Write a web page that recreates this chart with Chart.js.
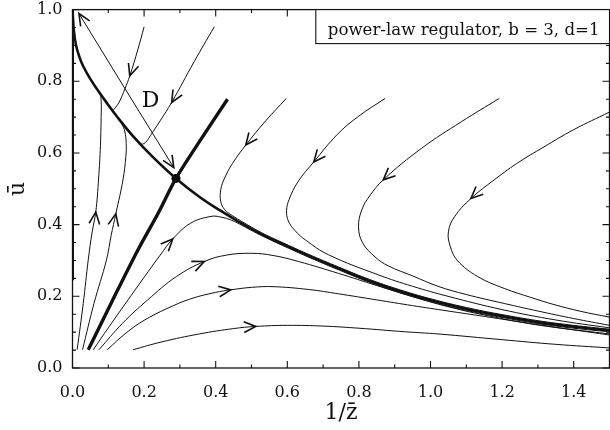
<!DOCTYPE html>
<html>
<head>
<meta charset="utf-8">
<script src="https://cdn.jsdelivr.net/npm/chart.js@4.4.1/dist/chart.umd.min.js"></script>
<style>
html, body { margin: 0; padding: 0; background: #fff; overflow: hidden; }
#wrap { position: relative; width: 614px; height: 430px; }
</style>
</head>
<body>
<div id="wrap"><canvas id="chartPhase"></canvas></div>
<script>
// tick labels
const xTickValues = [0, 0.2, 0.4, 0.6, 0.8, 1.0, 1.2, 1.4];
const yTickValues = [0, 0.2, 0.4, 0.6, 0.8, 1.0];
const xMinorValues = [0.1, 0.3, 0.5, 0.7, 0.9, 1.1, 1.3, 1.5];
const yMinorValues = [0.05, 0.1, 0.15, 0.25, 0.3, 0.35, 0.45, 0.5, 0.55, 0.65, 0.7, 0.75, 0.85, 0.9, 0.95];

const legendText = 'power-law regulator, b = 3, d=1';
const xTitle = '1/z\u0304';
const yTitle = '\u016b';
const dLabel = ['D', 0.218, 0.743];

// thick curves
const thickSep = [[0,1.0],[0.004,0.94],[0.01,0.9],[0.02,0.866],[0.03,0.842],[0.05,0.806],[0.076,0.767],[0.1,0.734],[0.123,0.703],[0.169,0.647],[0.224,0.589],[0.289,0.529],[0.354,0.478],[0.41,0.441],[0.465,0.408],[0.539,0.368],[0.604,0.338],[0.66,0.313],[0.743,0.278],[0.83,0.243],[0.928,0.21],[1.02,0.184],[1.113,0.162],[1.2,0.145],[1.3,0.128],[1.4,0.115],[1.5,0.105]];
const thickRay = [[0.044,0.051],[0.11,0.185],[0.183,0.33],[0.24,0.433],[0.289,0.529],[0.36,0.64],[0.433,0.75]];
const thickAxis = [[0,1.0],[0,0.245]];
const saddle = [[0.289,0.529]];

// distance D (double arrow)
const dLine = [[0.018,0.989],[0.15,0.774],[0.283,0.559]];

// trajectories
const trajA = [[0.2,0.952],[0.183,0.89],[0.16,0.815],[0.146,0.778],[0.132,0.745],[0.121,0.728],[0.112,0.72],[0.104,0.725],[0.098,0.736],[0.076,0.767],[0.05,0.806]];
const trajB = [[0.396,0.952],[0.34,0.855],[0.277,0.741],[0.245,0.69],[0.222,0.655],[0.208,0.634],[0.199,0.626],[0.19,0.626],[0.169,0.647],[0.123,0.703]];
const trajC1 = [[0.013,0.051],[0.03,0.18],[0.044,0.302],[0.055,0.38],[0.065,0.435],[0.073,0.53],[0.078,0.62],[0.08,0.7],[0.08,0.745],[0.076,0.767],[0.05,0.806]];
const trajC2 = [[0.028,0.051],[0.06,0.18],[0.095,0.302],[0.108,0.37],[0.121,0.43],[0.141,0.525],[0.149,0.59],[0.15,0.627],[0.146,0.66],[0.137,0.682],[0.123,0.703],[0.1,0.734]];
const trajE1 = [[0.058,0.051],[0.1,0.112],[0.15,0.183],[0.2,0.253],[0.245,0.315],[0.28,0.36],[0.33,0.404],[0.387,0.423],[0.415,0.421],[0.445,0.412],[0.475,0.397],[0.505,0.381],[0.539,0.364],[0.604,0.334],[0.66,0.309],[0.743,0.274],[0.83,0.239],[0.928,0.206],[1.02,0.18],[1.113,0.158],[1.2,0.141],[1.3,0.124],[1.4,0.111],[1.5,0.101]];
const trajE2 = [[0.074,0.051],[0.14,0.125],[0.21,0.19],[0.29,0.255],[0.368,0.297],[0.43,0.315],[0.5,0.32],[0.56,0.314],[0.632,0.297],[0.743,0.264],[0.85,0.23],[0.95,0.199],[1.049,0.171],[1.15,0.148],[1.3,0.12],[1.5,0.095]];
const trajE3 = [[0.097,0.051],[0.15,0.098],[0.2,0.133],[0.262,0.165],[0.33,0.193],[0.4,0.211],[0.442,0.218],[0.5,0.225],[0.56,0.227],[0.66,0.219],[0.743,0.207],[0.85,0.19],[0.95,0.174],[1.049,0.159],[1.15,0.144],[1.3,0.121],[1.5,0.092]];
const trajE4 = [[0.169,0.051],[0.25,0.073],[0.354,0.095],[0.45,0.11],[0.512,0.116],[0.6,0.119],[0.7,0.117],[0.8,0.111],[0.93,0.101],[1.021,0.095],[1.2,0.079],[1.35,0.066],[1.5,0.056]];
const trajF1 = [[0.597,0.752],[0.54,0.69],[0.484,0.622],[0.447,0.571],[0.425,0.53],[0.414,0.497],[0.414,0.465],[0.425,0.442],[0.447,0.425],[0.5,0.393],[0.539,0.372],[0.604,0.342],[0.66,0.317],[0.743,0.282],[0.83,0.247],[0.928,0.214],[1.02,0.188],[1.113,0.166],[1.2,0.149],[1.3,0.132],[1.4,0.119],[1.5,0.108]];
const trajF2 = [[0.873,0.752],[0.8,0.703],[0.74,0.652],[0.674,0.575],[0.63,0.52],[0.605,0.47],[0.598,0.44],[0.603,0.41],[0.622,0.383],[0.651,0.357],[0.715,0.316],[0.854,0.26],[0.95,0.228],[1.049,0.2],[1.2,0.163],[1.35,0.134],[1.5,0.112]];
const trajF3 = [[1.192,0.752],[1.086,0.687],[0.975,0.613],[0.868,0.525],[0.83,0.48],[0.808,0.441],[0.799,0.394],[0.81,0.35],[0.845,0.31],[0.882,0.285],[0.95,0.257],[1.021,0.228],[1.1,0.205],[1.206,0.18],[1.3,0.159],[1.4,0.138],[1.5,0.119]];
const trajF4 = [[1.5,0.714],[1.4,0.665],[1.317,0.617],[1.24,0.57],[1.178,0.525],[1.113,0.473],[1.067,0.422],[1.05,0.38],[1.055,0.34],[1.075,0.3],[1.132,0.255],[1.206,0.222],[1.28,0.197],[1.345,0.177],[1.42,0.158],[1.5,0.142]];

// arrowheads: [curve, index of tip, direction along the curve]
const arrowMarks = [
    [dLine, 0, -1], [dLine, 2, 1],
    [trajA, 2, 1], [trajB, 2, 1],
    [trajC1, 4, 1], [trajC2, 4, 1],
    [trajE1, 5, 1], [trajE2, 4, 1], [trajE3, 6, 1], [trajE4, 4, 1],
    [trajF1, 2, 1], [trajF2, 3, 1], [trajF3, 3, 1], [trajF4, 5, 1]
];

const serif = '"DejaVu Serif", serif';

function pts(arr) {
    return arr.map(p => ({ x: p[0], y: p[1] }));
}

function lineSet(arr, width, tension) {
    return {
        data: pts(arr),
        showLine: true,
        pointRadius: 0,
        borderColor: '#111',
        borderWidth: width,
        tension: tension,
        fill: false
    };
}

function drawArrow(ctx, x, y, ang) {
    const len = 13, spread = 0.42;
    ctx.beginPath();
    ctx.moveTo(x - len * Math.cos(ang - spread), y - len * Math.sin(ang - spread));
    ctx.lineTo(x, y);
    ctx.lineTo(x - len * Math.cos(ang + spread), y - len * Math.sin(ang + spread));
    ctx.stroke();
}

const framePlugin = {
    id: 'frame',
    afterDatasetsDraw(chart) {
        const { ctx, chartArea: a, scales: { x, y } } = chart;
        ctx.save();
        ctx.strokeStyle = '#111';
        ctx.lineWidth = 1.3;
        ctx.strokeRect(a.left, a.top, a.right - a.left, a.bottom - a.top);

        ctx.lineWidth = 1.1;
        ctx.beginPath();
        const xt = (v, len) => {
            const px = x.getPixelForValue(v);
            ctx.moveTo(px, a.bottom); ctx.lineTo(px, a.bottom - len);
            ctx.moveTo(px, a.top); ctx.lineTo(px, a.top + len);
        };
        const yt = (v, len) => {
            const py = y.getPixelForValue(v);
            ctx.moveTo(a.left, py); ctx.lineTo(a.left + len, py);
            ctx.moveTo(a.right, py); ctx.lineTo(a.right - len, py);
        };
        xTickValues.forEach(v => xt(v, 7));
        xMinorValues.forEach(v => xt(v, 3.5));
        yTickValues.forEach(v => yt(v, 7));
        yMinorValues.forEach(v => yt(v, 3.5));
        ctx.stroke();

        // arrowheads
        ctx.lineWidth = 1.6;
        ctx.lineJoin = 'miter';
        arrowMarks.forEach(([arr, i, dir]) => {
            const prev = arr[i - dir] || arr[i];
            const next = arr[i + dir] || arr[i];
            const x0 = x.getPixelForValue(prev[0]), y0 = y.getPixelForValue(prev[1]);
            const x1 = x.getPixelForValue(next[0]), y1 = y.getPixelForValue(next[1]);
            const tx = x.getPixelForValue(arr[i][0]), ty = y.getPixelForValue(arr[i][1]);
            drawArrow(ctx, tx, ty, Math.atan2(y1 - y0, x1 - x0));
        });

        // D label
        ctx.fillStyle = '#111';
        ctx.font = '22px ' + serif;
        ctx.textAlign = 'center';
        ctx.textBaseline = 'middle';
        ctx.fillText(dLabel[0], x.getPixelForValue(dLabel[1]), y.getPixelForValue(dLabel[2]));

        // legend box
        ctx.font = '16.6px ' + serif;
        const tw = ctx.measureText(legendText).width;
        const textRight = a.right - 10;
        const boxLeft = textRight - tw - 12;
        ctx.fillStyle = '#fff';
        ctx.fillRect(boxLeft, a.top, a.right - boxLeft, 34);
        ctx.lineWidth = 1.1;
        ctx.strokeRect(boxLeft, a.top, a.right - boxLeft, 34);
        ctx.fillStyle = '#111';
        ctx.textAlign = 'right';
        ctx.textBaseline = 'alphabetic';
        ctx.fillText(legendText, textRight, a.top + 25);
        ctx.restore();
    }
};

new Chart(document.getElementById('chartPhase'), {
    type: 'scatter',
    data: {
        datasets: [
            lineSet(thickAxis, 3, 0),
            lineSet(trajA, 1, 0.4),
            lineSet(trajB, 1, 0.4),
            lineSet(trajC1, 1, 0.4),
            lineSet(trajC2, 1, 0.4),
            lineSet(trajE1, 1, 0.4),
            lineSet(trajE2, 1, 0.4),
            lineSet(trajE3, 1, 0.4),
            lineSet(trajE4, 1, 0.4),
            lineSet(trajF1, 1, 0.4),
            lineSet(trajF2, 1, 0.4),
            lineSet(trajF3, 1, 0.4),
            lineSet(trajF4, 1, 0.4),
            lineSet(dLine, 1, 0),
            lineSet(thickSep, 2.6, 0.4),
            lineSet(thickRay, 3.4, 0.3),
            {
                data: pts(saddle),
                showLine: false,
                pointRadius: 4.5,
                pointBackgroundColor: '#000',
                pointBorderWidth: 0
            }
        ]
    },
    options: {
        responsive: true,
        maintainAspectRatio: false,
        animation: false,
        layout: { padding: { top: 0, right: 1.5, left: 0, bottom: 0 } },
        plugins: {
            legend: { display: false },
            tooltip: { enabled: false }
        },
        scales: {
            x: {
                type: 'linear',
                min: 0,
                max: 1.5,
                afterBuildTicks: s => { s.ticks = xTickValues.map(v => ({ value: v })); },
                afterFit: s => { s.height = 62; },
                grid: { display: false, drawTicks: true, tickLength: 15 },
                border: { display: false },
                ticks: {
                    color: '#111',
                    padding: 0,
                    maxRotation: 0,
                    font: { family: serif, size: 16 },
                    callback: v => v.toFixed(1)
                },
                title: {
                    display: true,
                    text: xTitle,
                    color: '#111',
                    font: { family: serif, size: 22 },
                    padding: { top: 0, bottom: 4 }
                }
            },
            y: {
                type: 'linear',
                min: 0,
                max: 1.0,
                afterBuildTicks: s => { s.ticks = yTickValues.map(v => ({ value: v })); },
                afterFit: s => { s.width = 72.5; },
                grid: { display: false, drawTicks: true, tickLength: 10 },
                border: { display: false },
                ticks: {
                    color: '#111',
                    padding: 0,
                    font: { family: serif, size: 16 },
                    callback: v => v.toFixed(1)
                },
                title: {
                    display: true,
                    text: yTitle,
                    color: '#111',
                    font: { family: serif, size: 22 },
                    padding: { top: 5, bottom: 0 }
                }
            }
        }
    },
    plugins: [framePlugin]
});
</script>
</body>
</html>
